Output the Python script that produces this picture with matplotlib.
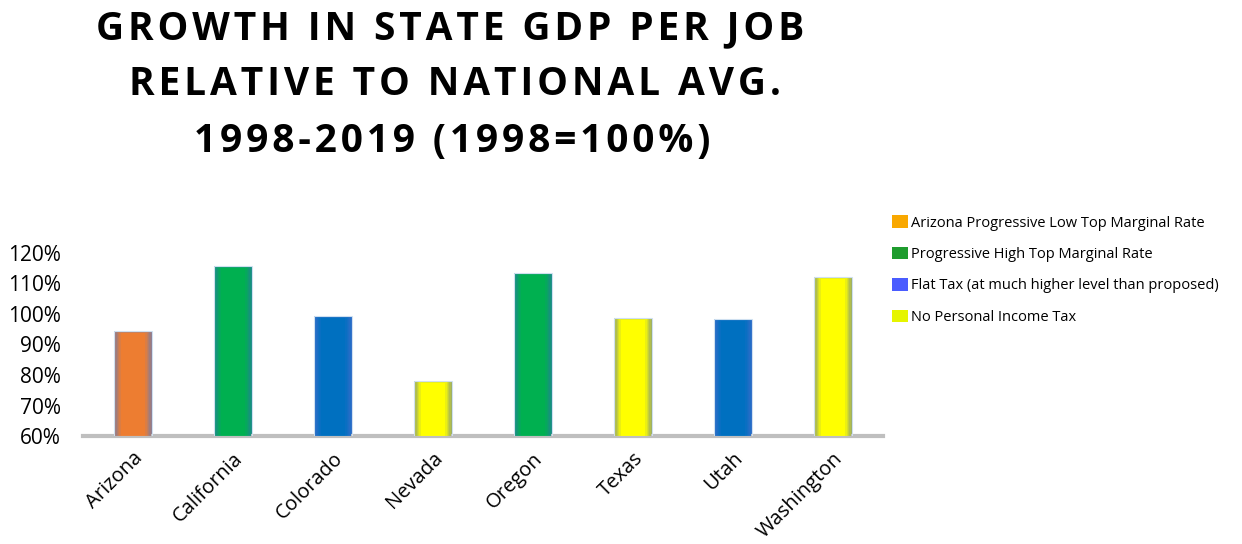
import matplotlib
matplotlib.use("Agg")
import matplotlib.pyplot as plt
import matplotlib.transforms as mtrans
from matplotlib.patches import Patch
import numpy as np

states = ["Arizona", "California", "Colorado", "Nevada", "Oregon", "Texas", "Utah", "Washington"]
values = [94.3, 115.7, 99.3, 78.1, 113.5, 98.7, 98.4, 112.2]
groups = ["az", "prog", "flat", "none", "prog", "none", "flat", "none"]

bar_colors = {"az": "#ED7D31", "prog": "#00B050", "flat": "#0070C0", "none": "#FFFF00"}
edge_colors = {"az": "#8C7C90", "prog": "#1A8C86", "flat": "#2C6CC8", "none": "#9DAE60"}
legend_labels = ["Arizona Progressive Low Top Marginal Rate",
                 "Progressive High Top Marginal Rate",
                 "Flat Tax (at much higher level than proposed)",
                 "No Personal Income Tax"]
legend_colors = ["#F9A800", "#1E9C2E", "#4A5CFF", "#E6F500"]
title_lines = ["GROWTH IN STATE GDP PER JOB",
               "RELATIVE TO NATIONAL AVG.",
               "1998-2019 (1998=100%)"]

fig = plt.figure(figsize=(12.42, 5.44), dpi=100)
ax = fig.add_axes([0.0668, 0.1985, 0.6441, 0.3365])

x = np.arange(len(states))
width = 0.38
base = 60
for k, frac in enumerate(np.linspace(0, 1, 6)):
    w = width * (1 - 0.35 * frac)
    for xi, v, g in zip(x, values, groups):
        c0 = np.array(matplotlib.colors.to_rgb(edge_colors[g]))
        c1 = np.array(matplotlib.colors.to_rgb(bar_colors[g]))
        c = c0 + (c1 - c0) * frac
        inset = 0.6 * frac
        ax.bar(xi, v - base - (inset if k > 0 else 0), width=w, bottom=base,
               color=c, edgecolor="none", zorder=2 + k)
for xi, v in zip(x, values):
    ax.bar(xi, v - base, width=width, bottom=base, color="none",
           edgecolor="#CFE0F0", linewidth=0.8, zorder=10)

ax.set_xlim(-0.5, 7.5)
ax.set_ylim(60, 120)
ax.set_yticks(range(60, 121, 10))
ax.set_yticklabels([f"{t}%" for t in range(60, 121, 10)], fontsize=15, family="Open Sans")
ax.set_xticks(x)
ax.set_xticklabels(states, rotation=45, ha="right", rotation_mode="anchor",
                   fontsize=14.5, family="Open Sans")
offset = mtrans.ScaledTranslation(18 / 100, 0, fig.dpi_scale_trans)
for lab in ax.get_xticklabels():
    lab.set_transform(lab.get_transform() + offset)
ax.tick_params(axis="y", length=0, pad=16)
ax.tick_params(axis="x", length=0, pad=9)
for s in ["top", "right", "left"]:
    ax.spines[s].set_visible(False)
ax.spines["bottom"].set_color("#BFBFBF")
ax.spines["bottom"].set_linewidth(3)
ax.patch.set_visible(False)

hair = "\u200a"
for line, yc, xc in zip(title_lines, [0.948, 0.844, 0.739], [0.3625, 0.366, 0.364]):
    spaced = hair.join(line)
    fig.text(xc, yc, spaced, ha="center", va="center", fontsize=28,
             fontweight="bold", family=["Open Sans", "DejaVu Sans"])

handles = [Patch(facecolor=c, edgecolor="none") for c in legend_colors]
fig.legend(handles, legend_labels, loc="upper left", bbox_to_anchor=(0.708, 0.628),
           frameon=False, prop={"family": "Open Sans", "size": 10.5},
           handlelength=1.05, handleheight=0.95, handletextpad=0.2, labelspacing=1.1)

fig.savefig("out.png", dpi=100)
